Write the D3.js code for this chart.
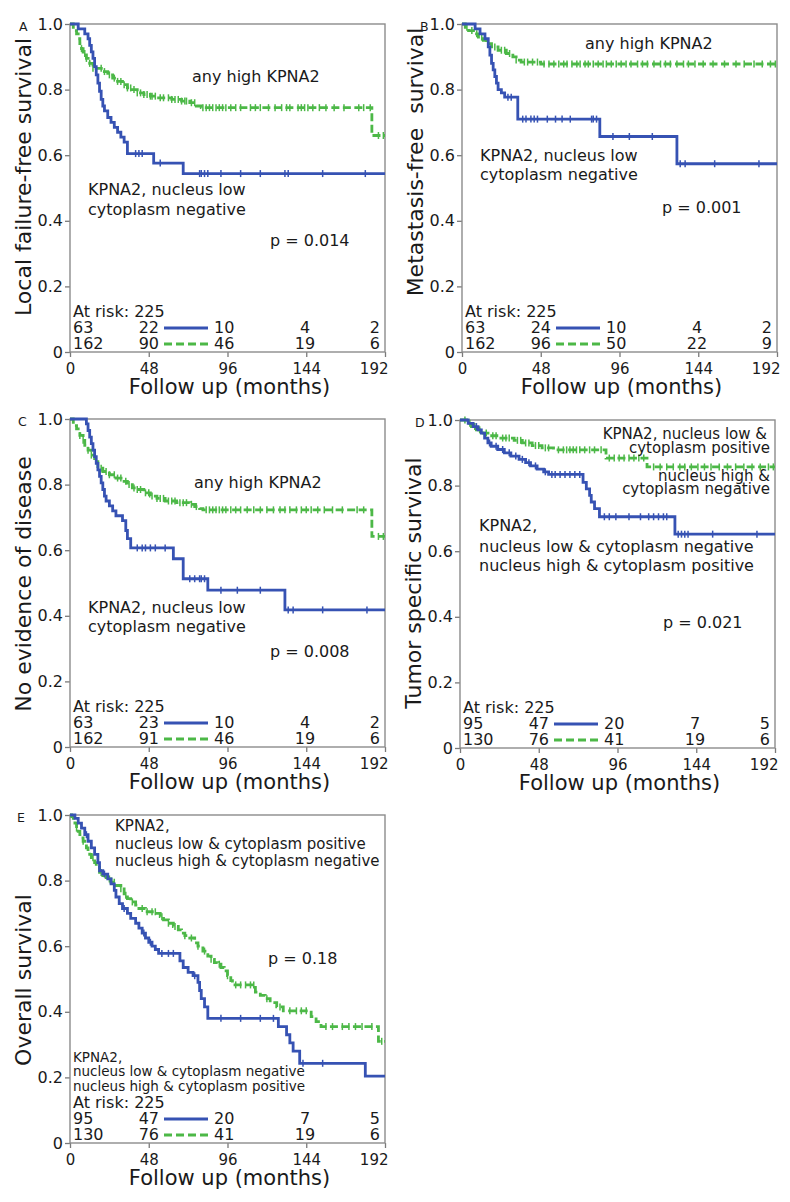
<!DOCTYPE html>
<html>
<head>
<meta charset="utf-8">
<script src="https://cdn.jsdelivr.net/npm/d3@7"></script>
<style>
body { margin: 0; background: #fff; }
text { font-family: 'DejaVu Sans', Verdana, sans-serif; fill: #1a1a1a; }
</style>
</head>
<body>
<script>
const w = 790;
const h = 1202;
const plotW = 315;
const plotH = 328;
const blue = '#3652b3';
const green = '#4cb847';

const xTicks = [0, 48, 96, 144, 192];
const yTicks = [0, 0.2, 0.4, 0.6, 0.8, 1.0];
const totalAtRisk = 225;

// steps: [month, survival after the drop]
const aBlueSteps = [[5,0.985],[9,0.97],[11,0.955],[12,0.935],[13,0.915],[14,0.895],[15,0.87],[16,0.845],[17,0.82],[18,0.795],[19,0.77],[20,0.75],[21,0.735],[23,0.715],[25,0.7],[27,0.685],[29,0.67],[31,0.655],[33,0.64],[35,0.605],[51,0.576],[69,0.544]];
const aBlueCens = [40,42,44,55,79,80,82,84,92,104,116,131,133,154,180];
const aGreenSteps = [[2,0.99],[3,0.98],[4,0.97],[5,0.955],[6,0.94],[7,0.925],[8,0.91],[10,0.895],[12,0.88],[14,0.865],[20,0.855],[23,0.845],[26,0.835],[29,0.825],[32,0.815],[35,0.805],[38,0.8],[41,0.79],[45,0.785],[49,0.78],[54,0.775],[62,0.77],[68,0.765],[73,0.76],[77,0.75],[80,0.745],[184,0.66]];
const aGreenCens = [7,9,10,12,14,19,21,24,27,29,31,33,35,37,39,41,43,45,47,49,50,52,55,57,60,62,64,66,68,70,71,74,76,81,83,85,87,89,91,93,95,98,101,104,110,113,116,121,125,129,132,134,139,141,143,145,148,152,156,161,167,176,179,183,188,191];
const aBlueRisk = [63, 22, 10, 4, 2];
const aGreenRisk = [162, 90, 46, 19, 6];

const bBlueSteps = [[8,0.985],[11,0.97],[14,0.955],[16,0.93],[17,0.905],[18,0.88],[19,0.86],[20,0.84],[21,0.82],[22,0.8],[24,0.79],[26,0.777],[34,0.71],[84,0.657],[131,0.574]];
const bBlueCens = [28,30,37,39,42,44,46,52,57,61,66,79,80,82,92,102,116,133,136,154,181];
const bGreenSteps = [[2,0.99],[4,0.98],[7,0.97],[10,0.96],[13,0.95],[15,0.94],[18,0.93],[22,0.92],[27,0.91],[31,0.9],[33,0.89],[36,0.884],[48,0.878]];
const bGreenCens = [3,6,9,12,16,20,24,26,29,33,38,40,43,46,50,53,56,59,62,64,67,70,72,75,77,80,83,86,88,91,94,97,100,103,107,110,113,117,121,124,127,131,135,138,142,147,153,160,167,172,178,183,188,191];
const bBlueRisk = [63, 24, 10, 4, 2];
const bGreenRisk = [162, 96, 50, 22, 9];

const cBlueSteps = [[10,0.985],[11,0.965],[12,0.945],[13,0.925],[14,0.905],[15,0.885],[16,0.865],[17,0.845],[18,0.825],[19,0.805],[20,0.785],[21,0.765],[22,0.75],[24,0.735],[26,0.72],[28,0.705],[32,0.69],[34,0.66],[35,0.635],[37,0.607],[63,0.574],[69,0.513],[84,0.478],[131,0.418]];
const cBlueCens = [41,44,46,49,52,58,73,76,79,80,82,92,102,116,133,136,154,181];
const cGreenSteps = [[2,0.99],[3,0.98],[4,0.97],[5,0.96],[6,0.95],[8,0.935],[9,0.92],[11,0.905],[13,0.89],[15,0.87],[17,0.85],[20,0.84],[24,0.83],[28,0.82],[32,0.81],[35,0.8],[38,0.79],[41,0.785],[45,0.775],[49,0.765],[53,0.758],[58,0.75],[65,0.745],[73,0.74],[76,0.733],[79,0.727],[81,0.723],[184,0.642]];
const cGreenCens = [6,8,11,13,19,22,24,27,29,31,34,36,39,41,43,46,48,50,53,55,57,60,62,64,67,69,71,74,77,83,85,87,89,91,93,95,98,101,104,108,112,116,120,124,128,131,134,138,141,144,147,151,155,160,166,175,179,188,191];
const cBlueRisk = [63, 23, 10, 4, 2];
const cGreenRisk = [162, 91, 46, 19, 6];

const dBlueSteps = [[5,0.99],[8,0.98],[11,0.97],[13,0.96],[15,0.945],[17,0.93],[19,0.92],[23,0.91],[27,0.9],[31,0.89],[36,0.88],[40,0.87],[43,0.86],[47,0.85],[51,0.842],[54,0.834],[75,0.81],[77,0.79],[79,0.77],[80,0.75],[82,0.73],[85,0.705],[131,0.652]];
const dBlueCens = [10,18,22,26,30,34,38,42,46,52,56,58,61,64,67,70,73,88,91,95,103,110,115,118,121,124,126,133,135,137,139,154,181];
const dGreenSteps = [[4,0.99],[7,0.98],[10,0.97],[14,0.96],[18,0.952],[24,0.945],[33,0.938],[38,0.93],[44,0.922],[50,0.915],[57,0.909],[89,0.884],[114,0.857]];
const dGreenCens = [3,6,9,12,16,20,22,26,28,30,35,37,40,42,46,48,52,54,60,63,65,67,69,71,73,76,79,82,86,91,94,97,100,103,106,109,112,118,122,126,130,134,137,141,145,149,153,158,163,168,173,178,183,188,191];
const dBlueRisk = [95, 47, 20, 7, 5];
const dGreenRisk = [130, 76, 41, 19, 6];

const eBlueSteps = [[3,0.99],[5,0.975],[7,0.96],[9,0.94],[11,0.92],[13,0.9],[15,0.88],[17,0.855],[18,0.83],[20,0.82],[23,0.805],[25,0.79],[27,0.77],[28,0.75],[30,0.73],[32,0.715],[35,0.7],[37,0.685],[40,0.67],[42,0.655],[44,0.64],[46,0.625],[48,0.612],[50,0.6],[52,0.59],[54,0.578],[67,0.555],[69,0.535],[72,0.52],[75,0.51],[78,0.49],[79,0.465],[80,0.44],[82,0.415],[84,0.38],[127,0.355],[132,0.33],[134,0.305],[136,0.28],[140,0.243],[180,0.204]];
const eBlueCens = [10,21,33,45,49,56,60,63,76,92,104,116,124,142,154];
const eGreenSteps = [[1,0.995],[2,0.985],[3,0.975],[4,0.96],[5,0.95],[6,0.94],[7,0.93],[8,0.92],[9,0.91],[10,0.9],[11,0.89],[12,0.88],[13,0.87],[15,0.855],[16,0.84],[18,0.825],[20,0.815],[22,0.805],[25,0.795],[28,0.785],[31,0.775],[33,0.755],[35,0.745],[37,0.735],[40,0.725],[42,0.715],[46,0.705],[53,0.7],[55,0.69],[57,0.68],[60,0.67],[63,0.66],[66,0.65],[68,0.64],[70,0.632],[73,0.625],[76,0.61],[78,0.6],[81,0.585],[84,0.57],[86,0.56],[88,0.55],[90,0.545],[92,0.535],[94,0.525],[96,0.51],[98,0.495],[99,0.482],[113,0.46],[116,0.45],[119,0.44],[122,0.428],[126,0.415],[130,0.403],[147,0.385],[150,0.37],[153,0.355],[188,0.31]];
const eGreenCens = [4,8,14,19,24,27,31,34,38,44,47,50,52,56,60,64,70,74,78,82,86,91,96,101,104,107,110,112,120,128,134,138,141,144,156,160,166,170,174,178,184,190];
const eBlueRisk = [95, 47, 20, 7, 5];
const eGreenRisk = [130, 76, 41, 19, 6];

const svg = d3.select('body')
    .append('svg')
    .attr('width', w)
    .attr('height', h)
    .attr('viewBox', '0 0 ' + w + ' ' + h);

const x = d3.scaleLinear().domain([0, 192]).range([0, plotW]);
const y = d3.scaleLinear().domain([0, 1]).range([plotH, 0]);

function survAt(steps, t) {
    let s = 1;
    steps.forEach((d) => { if (d[0] <= t) s = d[1]; });
    return s;
}

const stepLine = d3.line()
    .x((d) => x(d[0]))
    .y((d) => y(d[1]))
    .curve(d3.curveStepAfter);

function drawCurve(g, steps, cens, color, dash) {
    const pts = [[0, 1]].concat(steps);
    pts.push([192, steps[steps.length - 1][1]]);
    g.append('path')
        .attr('d', stepLine(pts))
        .attr('fill', 'none')
        .attr('stroke', color)
        .attr('stroke-width', 2.8)
        .attr('stroke-dasharray', dash ? '8,3.5' : null);
    g.selectAll(null)
        .data(cens)
        .enter()
        .append('line')
        .attr('x1', (d) => x(d))
        .attr('x2', (d) => x(d))
        .attr('y1', (d) => y(survAt(steps, d)) - 3.5)
        .attr('y2', (d) => y(survAt(steps, d)) + 3.5)
        .attr('stroke', color)
        .attr('stroke-width', 1.5);
}

function drawPanel(p) {
    const g = svg.append('g')
        .attr('transform', 'translate(' + p.left + ', ' + p.top + ')');

    const yAxis = d3.axisLeft(y).tickValues(yTicks).tickSize(5).tickPadding(2)
        .tickFormat((d) => d === 0 ? '0' : d3.format('.1f')(d));
    const xAxis = d3.axisBottom(x).tickValues(xTicks).tickSize(5).tickPadding(6);

    const ya = g.append('g').call(yAxis);
    const xa = g.append('g').attr('transform', 'translate(0, ' + plotH + ')').call(xAxis);
    [ya, xa].forEach((a) => {
        a.select('.domain').remove();
        a.selectAll('line').attr('stroke', '#7a7a7a').attr('stroke-width', 1.3);
        a.selectAll('text').attr('fill', '#1a1a1a');
    });
    ya.selectAll('text').style('font-size', '16px');
    xa.selectAll('text').style('font-size', '15px');
    // last x label sits inside the right edge
    xa.selectAll('text').filter((d) => d === 192)
        .attr('text-anchor', 'end')
        .attr('dx', 3);

    g.append('rect')
        .attr('width', plotW)
        .attr('height', plotH)
        .attr('fill', 'none')
        .attr('stroke', '#8c8c8c')
        .attr('stroke-width', 1.4);

    drawCurve(g, p.greenSteps, p.greenCens, green, true);
    drawCurve(g, p.blueSteps, p.blueCens, blue, false);

    g.append('text')
        .text(p.id)
        .attr('x', p.letterDx)
        .attr('y', 7)
        .style('font-size', '12.5px');

    g.append('text')
        .text(p.yLabel)
        .attr('transform', 'translate(-47, ' + p.labelDy + ') rotate(-90)')
        .attr('text-anchor', 'middle')
        .attr('dominant-baseline', 'central')
        .style('font-size', '22px');

    g.append('text')
        .text('Follow up (months)')
        .attr('x', plotW / 2 + 2)
        .attr('y', plotH + 42)
        .attr('text-anchor', 'middle')
        .style('font-size', '21px');

    p.notes.forEach((n) => {
        g.append('text')
            .text(n.text)
            .attr('x', n.dx)
            .attr('y', n.dy)
            .attr('text-anchor', n.anchor || 'start')
            .style('font-size', (n.size || 16) + 'px');
    });

    // at-risk table
    const rowY = [plotH - 35, plotH - 19, plotH - 3];
    g.append('text')
        .text('At risk: ' + totalAtRisk)
        .attr('x', 3)
        .attr('y', rowY[0])
        .style('font-size', '16px');
    const cols = [
        { x: 3, anchor: 'start' },
        { x: 89, anchor: 'end' },
        { x: 144, anchor: 'start' },
        { x: 235, anchor: 'middle' },
        { x: 310, anchor: 'end' }
    ];
    [[p.blueRisk, blue, false], [p.greenRisk, green, true]].forEach((r, i) => {
        r[0].forEach((v, j) => {
            g.append('text')
                .text(v)
                .attr('x', cols[j].x)
                .attr('y', rowY[i + 1])
                .attr('text-anchor', cols[j].anchor)
                .style('font-size', '16px');
        });
        g.append('line')
            .attr('x1', 94)
            .attr('x2', 138)
            .attr('y1', rowY[i + 1] - 5)
            .attr('y2', rowY[i + 1] - 5)
            .attr('stroke', r[1])
            .attr('stroke-width', 3)
            .attr('stroke-dasharray', r[2] ? '8,4' : null);
    });
}

const panels = [
    { id: 'A', left: 70, top: 24, letterDx: -51, labelDy: 153,
      yLabel: 'Local failure-free survival',
      blueSteps: aBlueSteps, blueCens: aBlueCens, greenSteps: aGreenSteps, greenCens: aGreenCens,
      blueRisk: aBlueRisk, greenRisk: aGreenRisk,
      notes: [
        { text: 'any high KPNA2', dx: 122, dy: 58 },
        { text: 'KPNA2, nucleus low', dx: 18, dy: 171 },
        { text: 'cytoplasm negative', dx: 18, dy: 191 },
        { text: 'p = 0.014', dx: 200, dy: 221.5 }
      ] },
    { id: 'B', left: 462, top: 24, letterDx: -42, labelDy: 138,
      yLabel: 'Metastasis-free\u00a0 survival',
      blueSteps: bBlueSteps, blueCens: bBlueCens, greenSteps: bGreenSteps, greenCens: bGreenCens,
      blueRisk: bBlueRisk, greenRisk: bGreenRisk,
      notes: [
        { text: 'any high KPNA2', dx: 123, dy: 25 },
        { text: 'KPNA2, nucleus low', dx: 18, dy: 137 },
        { text: 'cytoplasm negative', dx: 18, dy: 156 },
        { text: 'p = 0.001', dx: 200, dy: 189 }
      ] },
    { id: 'C', left: 70, top: 419, letterDx: -52, labelDy: 165,
      yLabel: 'No evidence of disease',
      blueSteps: cBlueSteps, blueCens: cBlueCens, greenSteps: cGreenSteps, greenCens: cGreenCens,
      blueRisk: cBlueRisk, greenRisk: cGreenRisk,
      notes: [
        { text: 'any high KPNA2', dx: 124, dy: 69 },
        { text: 'KPNA2, nucleus low', dx: 18, dy: 194 },
        { text: 'cytoplasm negative', dx: 18, dy: 213 },
        { text: 'p = 0.008', dx: 200, dy: 238 }
      ] },
    { id: 'D', left: 460, top: 420, letterDx: -45, labelDy: 163,
      yLabel: 'Tumor specific survival',
      blueSteps: dBlueSteps, blueCens: dBlueCens, greenSteps: dGreenSteps, greenCens: dGreenCens,
      blueRisk: dBlueRisk, greenRisk: dGreenRisk,
      notes: [
        { text: 'KPNA2, nucleus low &', dx: 307, dy: 19, anchor: 'end', size: 15 },
        { text: 'cytoplasm positive', dx: 310, dy: 33, anchor: 'end', size: 15 },
        { text: 'nucleus high &', dx: 310, dy: 61, anchor: 'end', size: 15 },
        { text: 'cytoplasm negative', dx: 310, dy: 74, anchor: 'end', size: 15 },
        { text: 'KPNA2,', dx: 19, dy: 111 },
        { text: 'nucleus low & cytoplasm negative', dx: 19, dy: 131.5 },
        { text: 'nucleus high & cytoplasm positive', dx: 19, dy: 150.5 },
        { text: 'p = 0.021', dx: 203, dy: 207.7 }
      ] },
    { id: 'E', left: 70, top: 815, letterDx: -53, labelDy: 165,
      yLabel: 'Overall survival',
      blueSteps: eBlueSteps, blueCens: eBlueCens, greenSteps: eGreenSteps, greenCens: eGreenCens,
      blueRisk: eBlueRisk, greenRisk: eGreenRisk,
      notes: [
        { text: 'KPNA2,', dx: 45, dy: 16, size: 15 },
        { text: 'nucleus low & cytoplasm positive', dx: 45, dy: 33.5, size: 15 },
        { text: 'nucleus high & cytoplasm negative', dx: 45, dy: 51, size: 15 },
        { text: 'p = 0.18', dx: 198, dy: 149.3 },
        { text: 'KPNA2,', dx: 3, dy: 246.5, size: 13.5 },
        { text: 'nucleus low & cytoplasm negative', dx: 3, dy: 261, size: 13.5 },
        { text: 'nucleus high & cytoplasm positive', dx: 3, dy: 276, size: 13.5 }
      ] }
];

panels.forEach(drawPanel);
</script>
</body>
</html>
